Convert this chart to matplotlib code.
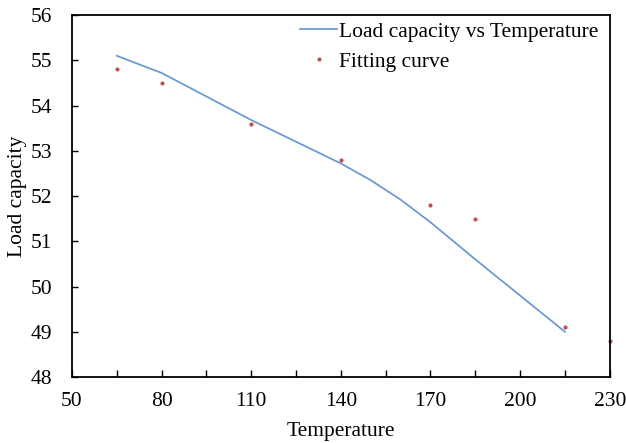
import matplotlib
matplotlib.use("Agg")
import matplotlib.pyplot as plt
from matplotlib.ticker import FixedLocator

# curve (blue line)
line_x = [65, 80, 95, 110, 125, 140, 150, 160, 170, 185, 200, 215]
line_y = [55.1, 54.72, 54.2, 53.68, 53.2, 52.72, 52.35, 51.92, 51.42, 50.6, 49.8, 49.0]

# points (red dots)
pts_x = [65, 80, 110, 140, 170, 185, 215, 230]
pts_y = [54.8, 54.5, 53.6, 52.8, 51.8, 51.5, 49.1, 48.8]

xticks = [50, 80, 110, 140, 170, 200, 230]
xminor = [65, 95, 125, 155, 185, 215]
yticks = [48, 49, 50, 51, 52, 53, 54, 55, 56]

plt.rcParams['font.family'] = ['Liberation Serif', 'DejaVu Serif']
fs = 15.5

fig = plt.figure(figsize=(6.26, 4.43), dpi=100)
ax = fig.add_axes([0.115, 0.149, 0.859, 0.817])

ax.plot(line_x, line_y, color='#6C9BD2', lw=1.3, label='Load capacity vs Temperature')
ax.plot(pts_x, pts_y, ls='none', marker='o', ms=3, color='#C0504D',
        mec='none', clip_on=False, label='Fitting curve')

ax.set_xlim(50, 230)
ax.set_ylim(48, 56)
ax.xaxis.set_major_locator(FixedLocator(xticks))
ax.xaxis.set_minor_locator(FixedLocator(xminor))
ax.yaxis.set_major_locator(FixedLocator(yticks))

ax.tick_params(axis='x', which='both', direction='in', length=5, width=1,
               labelsize=fs, pad=11)
ax.tick_params(axis='y', direction='in', length=4, width=1, labelsize=fs, pad=14)

for s in ax.spines.values():
    s.set_linewidth(1.3)
    s.set_color('black')

ax.set_xlabel('Temperature', fontsize=fs, labelpad=8)
ax.set_ylabel('Load capacity', fontsize=fs, labelpad=3)

ax.legend(loc='upper right', bbox_to_anchor=(0.988, 0.996), frameon=False,
          fontsize=fs, handlelength=1.75, handletextpad=0.05,
          borderaxespad=0.15, labelspacing=0.45, borderpad=0.1)

fig.savefig('out.png', dpi=100)
